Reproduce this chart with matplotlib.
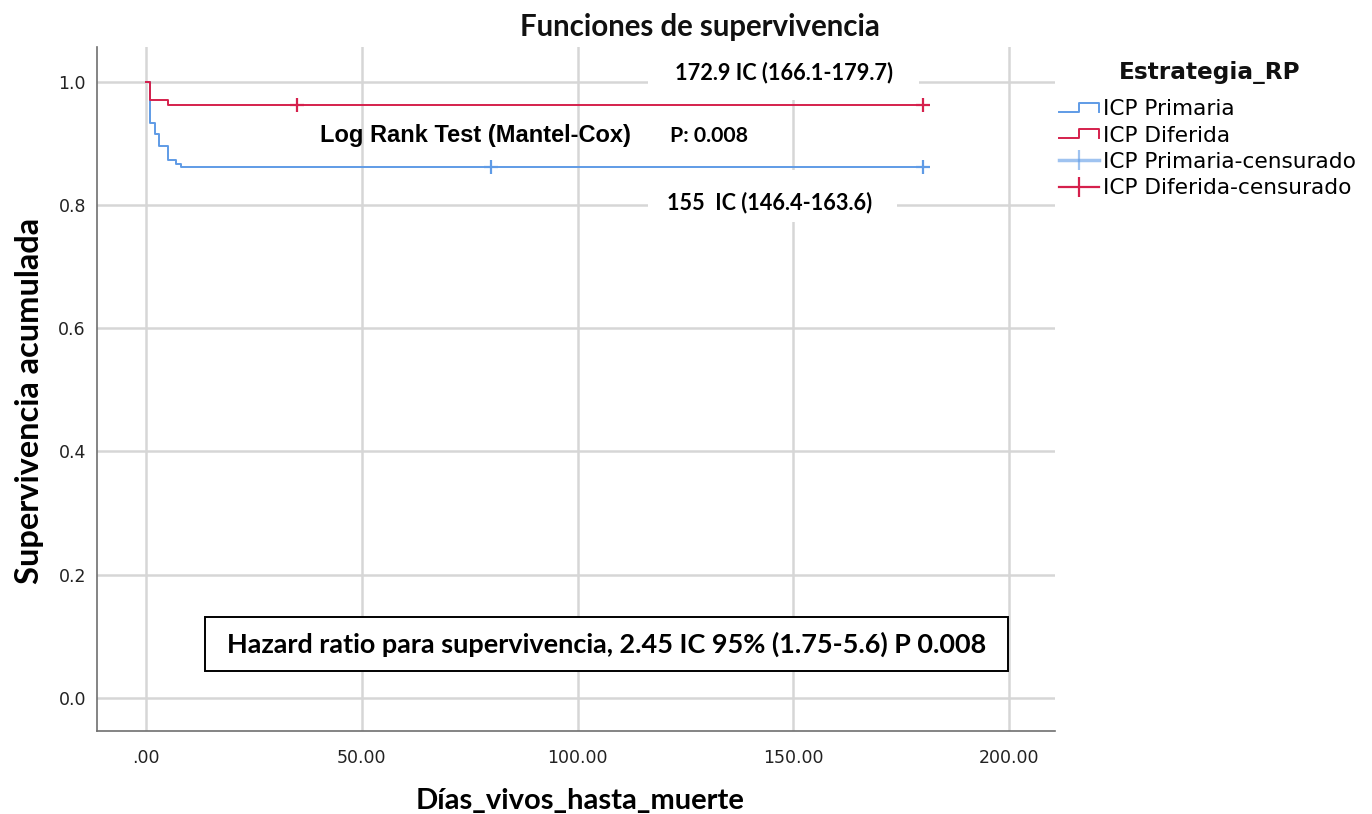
import matplotlib
matplotlib.use('Agg')
from matplotlib import pyplot as plt
from matplotlib.lines import Line2D
from matplotlib.patches import Rectangle
from matplotlib.legend_handler import HandlerBase

# Kaplan-Meier steps
dias_primaria = [0, 1, 2, 3, 5, 7, 8, 180]
surv_primaria = [1.0, 0.933, 0.916, 0.896, 0.873, 0.867, 0.862, 0.862]
dias_diferida = [0, 1, 5, 180]
surv_diferida = [1.0, 0.971, 0.962, 0.962]

# censored observations
cens_primaria_t = [80, 180]
cens_primaria_s = [0.862, 0.862]
cens_diferida_t = [35, 180]
cens_diferida_s = [0.962, 0.962]

x_ticks = [0, 50, 100, 150, 200]
x_labels = ['.00', '50.00', '100.00', '150.00', '200.00']
y_ticks = [0.0, 0.2, 0.4, 0.6, 0.8, 1.0]
y_labels = ['0.0', '0.2', '0.4', '0.6', '0.8', '1.0']

grupos = ['ICP Primaria', 'ICP Diferida', 'ICP Primaria-censurado', 'ICP Diferida-censurado']

azul = '#5f9be6'
rojo = '#d5204c'
gris = '#d6d6d6'
calibri = 'Lato'


class StepHandler(HandlerBase):
    def create_artists(self, legend, orig, xd, yd, w, h, fontsize, trans):
        x0 = -xd
        y0 = -yd
        xs = [x0, x0 + w * 0.5, x0 + w * 0.5, x0 + w, x0 + w]
        ys = [y0 + h * 0.22, y0 + h * 0.22, y0 + h * 0.8, y0 + h * 0.8, y0 + h * 0.22]
        ln = Line2D(xs, ys, color=orig.get_color(), lw=orig.get_linewidth())
        ln.set_transform(trans)
        return [ln]


def fit(t, px, vertical=False):
    r = fig.canvas.get_renderer()
    bb = t.get_window_extent(r)
    cur = bb.height if vertical else bb.width
    t.set_fontsize(t.get_fontsize() * px / cur)


fig = plt.figure(figsize=(13.72, 8.14), dpi=100)
ax = fig.add_axes([97 / 1372, 83 / 814, 958 / 1372, 684 / 814])

l1, = ax.step(dias_primaria, surv_primaria, where='post', color=azul, lw=1.4, zorder=3)
l2, = ax.step(dias_diferida, surv_diferida, where='post', color=rojo, lw=1.4, zorder=3)
ax.plot(cens_primaria_t, cens_primaria_s, ls='none', marker='+', ms=10, mew=1.6, color=azul, zorder=3)
ax.plot(cens_diferida_t, cens_diferida_s, ls='none', marker='+', ms=10, mew=1.6, color=rojo, zorder=3)

ax.set_xlim(-11.35, 210.6)
ax.set_ylim(-0.054, 1.057)
ax.set_xticks(x_ticks)
ax.set_xticklabels(x_labels)
ax.set_yticks(y_ticks)
ax.set_yticklabels(y_labels)
ax.tick_params(length=0, labelsize=12.5, colors='#222222')
ax.tick_params(axis='x', pad=13)
ax.tick_params(axis='y', pad=8)
ax.set_axisbelow(True)
ax.grid(True, color=gris, lw=1.8)
for s in ['top', 'right']:
    ax.spines[s].set_visible(False)
for s in ['left', 'bottom']:
    ax.spines[s].set_color('#707070')
    ax.spines[s].set_linewidth(1.2)

# white boxes behind the median labels
ax.add_patch(Rectangle((0.575, 0.9225), 0.283, 0.08, transform=ax.transAxes,
                       facecolor='white', edgecolor='none', zorder=1.5, clip_on=False))
ax.add_patch(Rectangle((0.575, 0.744), 0.26, 0.076, transform=ax.transAxes,
                       facecolor='white', edgecolor='none', zorder=1.5))
ax.add_patch(Rectangle((0.1127, 0.0877), 0.8383, 0.079, transform=ax.transAxes,
                       facecolor='white', edgecolor='black', lw=1.4, zorder=1.5))

t1 = ax.text(0.7166, 0.962, '172.9 IC (166.1-179.7)', transform=ax.transAxes, ha='center', va='center',
             fontsize=16, fontweight='bold', family=calibri, zorder=4)
t2 = ax.text(0.2328, 0.870, 'Log Rank Test (Mantel-Cox)', transform=ax.transAxes, ha='left', va='center',
             fontsize=17, fontweight='bold', family='Liberation Sans', zorder=4)
t3 = ax.text(0.598, 0.870, 'P: 0.008', transform=ax.transAxes, ha='left', va='center',
             fontsize=16, fontweight='bold', family=calibri, zorder=4)
t4 = ax.text(0.7025, 0.772, '155  IC (146.4-163.6)', transform=ax.transAxes, ha='center', va='center',
             fontsize=16, fontweight='bold', family=calibri, zorder=4)
t5 = ax.text(0.5318, 0.1272, 'Hazard ratio para supervivencia, 2.45 IC 95% (1.75-5.6) P 0.008',
             transform=ax.transAxes, ha='center', va='center',
             fontsize=19, fontweight='bold', family=calibri, zorder=4)

tt = fig.text(700 / 1372, 1 - 27 / 814, 'Funciones de supervivencia', ha='center', va='center',
              fontsize=18, fontweight='bold', color='#111111', family=calibri)
xl = ax.set_xlabel('Días_vivos_hasta_muerte', fontsize=17, fontweight='bold', family=calibri)
yl = ax.set_ylabel('Supervivencia acumulada', fontsize=18, fontweight='bold', family=calibri)
ax.xaxis.set_label_coords(0.504, -0.083)
ax.yaxis.set_label_coords(-0.055, 0.4825)

# legend title placed on its own, entries below
lt = fig.text(1210 / 1372, 1 - 73 / 814, 'Estrategia_RP', ha='center', va='center',
              fontsize=16.5, fontweight='bold', color='#111111')

h3 = Line2D([], [], color=azul, lw=2.5, alpha=0.6, marker='|', ms=15, mew=1.6)
h4 = Line2D([], [], color=rojo, lw=1.6, marker='|', ms=15, mew=1.6)
leg = fig.legend([l1, l2, h3, h4], grupos, loc='upper left',
                 bbox_to_anchor=(1059 / 1372, 1 - 99 / 814), frameon=False, numpoints=1,
                 fontsize=15.6, handlelength=1.85, handletextpad=0.2, labelspacing=0.3,
                 borderpad=0, borderaxespad=0,
                 handler_map={l1: StepHandler(), l2: StepHandler()})

fit(tt, 363)
fit(lt, 180)
fit(t1, 218)
fit(t3, 78)
fit(t4, 205)
fit(t5, 760)
fit(xl, 329)
fit(yl, 367, vertical=True)

fig.savefig('out.png', dpi=100)
